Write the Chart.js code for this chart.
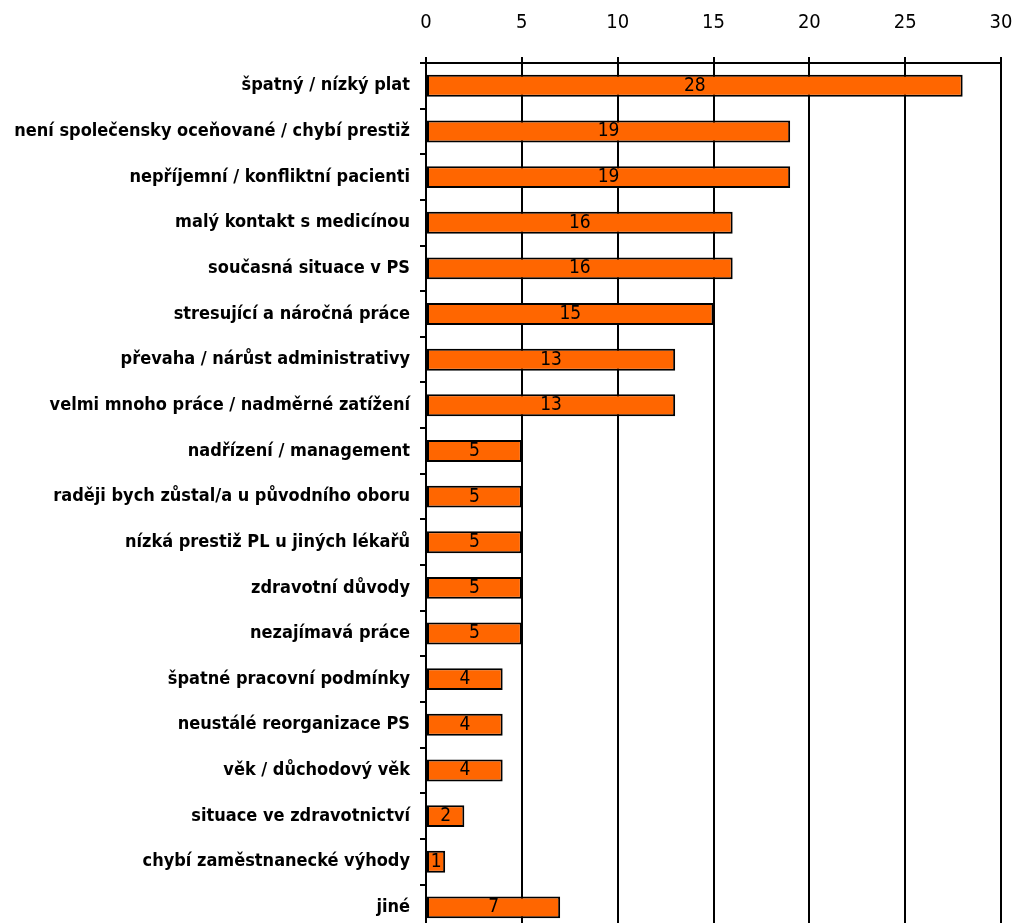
<!DOCTYPE html>
<html>
<head>
<meta charset="utf-8">
<script src="https://cdn.jsdelivr.net/npm/chart.js@4"></script>
<style>
  html, body { margin: 0; padding: 0; background: #fff; overflow: hidden; }
  #wrap { width: 1013px; height: 951px; }
</style>
</head>
<body>
<div id="wrap"><canvas id="reasonsChart" width="1013" height="951"></canvas></div>
<script>
// Data
const categories = [
    'špatný / nízký plat',
    'není společensky oceňované / chybí prestiž',
    'nepříjemní / konfliktní pacienti',
    'malý kontakt s medicínou',
    'současná situace v PS',
    'stresující a náročná práce',
    'převaha / nárůst administrativy',
    'velmi mnoho práce / nadměrné zatížení',
    'nadřízení / management',
    'raději bych zůstal/a u původního oboru',
    'nízká prestiž PL u jiných lékařů',
    'zdravotní důvody',
    'nezajímavá práce',
    'špatné pracovní podmínky',
    'neustálé reorganizace PS',
    'věk / důchodový věk',
    'situace ve zdravotnictví',
    'chybí zaměstnanecké výhody',
    'jiné'
];
const counts = [28, 19, 19, 16, 16, 15, 13, 13, 5, 5, 5, 5, 5, 4, 4, 4, 2, 1, 7];
const xTicks = [0, 5, 10, 15, 20, 25, 30];

const FONT = '"Liberation Sans Narrow", "DejaVu Sans Condensed", Arial, sans-serif';

// value labels in the middle of each bar
const barValues = {
    id: 'barValues',
    afterDatasetsDraw(chart) {
        const ctx = chart.ctx;
        const meta = chart.getDatasetMeta(0);
        ctx.save();
        ctx.font = '19px ' + FONT;
        ctx.fillStyle = '#000';
        ctx.textAlign = 'center';
        ctx.textBaseline = 'middle';
        meta.data.forEach((bar, i) => {
            ctx.fillText(String(counts[i]), (bar.x + bar.base) / 2, bar.y);
        });
        ctx.restore();
    }
};

const ctx = document.getElementById('reasonsChart').getContext('2d');
const chart = new Chart(ctx, {
    type: 'bar',
    data: {
        labels: categories,
        datasets: [{
            data: counts,
            backgroundColor: '#FF6600',
            borderColor: '#000',
            borderWidth: 2,
            borderSkipped: false,
            barPercentage: 0.48,
            categoryPercentage: 1
        }]
    },
    options: {
        indexAxis: 'y',
        responsive: false,
        animation: false,
        layout: { padding: { top: 0, right: 12, bottom: 6, left: 0 } },
        plugins: {
            legend: { display: false },
            tooltip: { enabled: false }
        },
        scales: {
            x: {
                position: 'top',
                min: 0,
                max: 30,
                afterBuildTicks: (s) => { s.ticks = xTicks.map(v => ({ value: v })); },
                afterFit: (s) => { s.height = 63; s.paddingLeft = 0; s.paddingRight = 0; },
                border: { display: true, color: '#000', width: 2 },
                grid: { color: '#000', lineWidth: 2, drawTicks: true, tickLength: 6, tickColor: '#000' },
                ticks: { color: '#000', font: { family: FONT, size: 20 }, padding: 22 }
            },
            y: {
                afterFit: (s) => { s.width = 426; },
                border: { display: true, color: '#000', width: 2 },
                grid: { offset: true, drawOnChartArea: false, drawTicks: true, tickLength: 6, tickColor: '#000', lineWidth: 2 },
                ticks: { color: '#000', font: { family: FONT, size: 18, weight: 'bold' }, padding: 10, autoSkip: false }
            }
        }
    },
    plugins: [barValues]
});
</script>
</body>
</html>
